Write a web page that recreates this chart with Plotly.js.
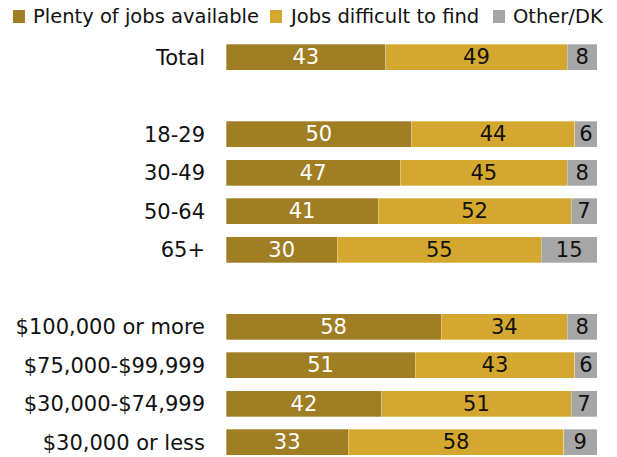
<!DOCTYPE html>
<html><head><meta charset="utf-8">
<script src="https://cdn.plot.ly/plotly-3.0.1.min.js"></script>
<style>body{margin:0;background:#fff}#chart{width:617px;height:457px}</style>
</head><body><div id="chart"></div>
<script>
const categories = ["Total", " ", "18-29", "30-49", "50-64", "65+", "  ", "$100,000 or more", "$75,000-$99,999", "$30,000-$74,999", "$30,000 or less"];
const plenty    = [43, null, 50, 47, 41, 30, null, 58, 51, 42, 33];
const difficult = [49, null, 44, 45, 52, 55, null, 34, 43, 51, 58];
const otherDK   = [8,  null, 6,  8,  7,  15, null, 8,  6,  7,  9];
const seriesNames = ["Plenty of jobs available", "Jobs difficult to find", "Other/DK"];
const colors = ["#9F7E24", "#D4A82F", "#A6A6A6"];
const textColors = ["#ffffff", "#111111", "#111111"];
const FONT = "'DejaVu Sans', 'Liberation Sans', sans-serif";
const FS = 19.5;   // legend
const FT = 21;     // tick labels and bar values

const traces = [plenty, difficult, otherDK].map((vals, i) => ({
  type: 'bar', orientation: 'h',
  name: seriesNames[i],
  x: vals, y: categories,
  text: vals.map(v => v == null ? '' : String(v)),
  textposition: 'inside', insidetextanchor: 'middle', constraintext: 'none', textangle: 0,
  textfont: {family: FONT, size: FT, color: textColors[i]},
  marker: {color: colors[i], line: {color: 'rgba(255,255,255,0.6)', width: 0.5}},
  hoverinfo: 'skip', cliponaxis: false, showlegend: false
}));

// legend drawn as squares + labels (pixel positions converted to paper coords)
const L = 226, W = 371, T = 38, H = 419;
const px = x => (x - L) / W;
const py = y => (T + H - y) / H;
const legendSq = [[13, 25], [270, 282], [493, 505]];
const legendTx = [31, 287, 511];
const shapes = legendSq.map((s, i) => ({
  type: 'rect', xref: 'paper', yref: 'paper',
  x0: px(s[0]), x1: px(s[1]), y0: py(23), y1: py(10),
  fillcolor: colors[i], line: {width: 0}
}));
const annotations = seriesNames.map((n, i) => ({
  xref: 'paper', yref: 'paper', x: px(legendTx[i]), y: py(17),
  xanchor: 'left', yanchor: 'middle', showarrow: false, text: n,
  font: {family: FONT, size: FS, color: '#111'}
}));

const layout = {
  width: 617, height: 457,
  margin: {l: L, r: 20, t: T, b: 0},
  barmode: 'stack', bargap: 0.32,
  paper_bgcolor: '#fff', plot_bgcolor: '#fff',
  font: {family: FONT, size: FS, color: '#111'},
  xaxis: {range: [0, 100], visible: false, fixedrange: true},
  yaxis: {type: 'category', categoryorder: 'array', categoryarray: categories,
          range: [10.38, -0.5], showgrid: false, zeroline: false, showline: false,
          ticks: '', ticklabelstandoff: 20, tickfont: {family: FONT, size: FT, color: '#111'}},
  showlegend: false,
  shapes: shapes,
  annotations: annotations
};
Plotly.newPlot('chart', traces, layout, {displayModeBar: false, staticPlot: true});
</script></body></html>
